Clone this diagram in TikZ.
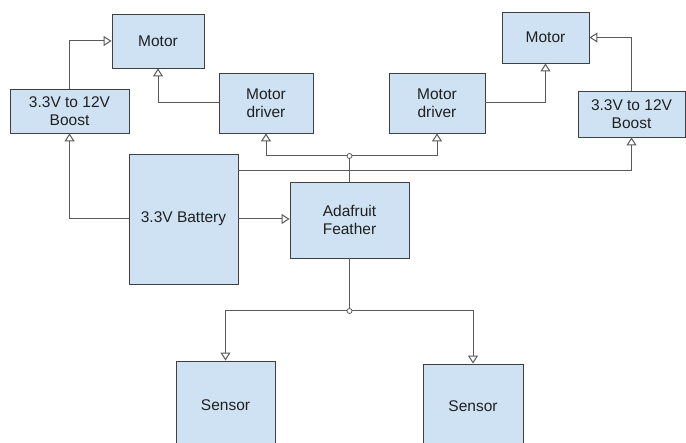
\documentclass[tikz,border=0pt]{standalone}
\usepackage{fontspec}
\setmainfont{Liberation Sans}
\usepackage{tikz}
\usetikzlibrary{arrows.meta,positioning}
\definecolor{boxfill}{RGB}{207,226,243}
\definecolor{boxline}{RGB}{64,64,64}
\definecolor{wire}{RGB}{90,90,90}
\definecolor{ink}{RGB}{32,32,32}

\begin{document}
\begin{tikzpicture}[x=1pt, y=-1pt,
    block/.style={draw=boxline, fill=boxfill, line width=0.9pt, inner sep=0pt, align=center,
      text=ink, font=\fontsize{15.5}{18}\selectfont},
    link/.style={draw=wire, line width=1pt, -{Triangle[fill=white, length=8pt, width=10pt]}},
    wire/.style={draw=wire, line width=1pt},
    junction/.style={circle, draw=wire, fill=white, line width=0.8pt, inner sep=0pt, minimum size=5pt}]
  \useasboundingbox (0,0) rectangle (686,443);
  \fill[white] (0,0) rectangle (686,443);
  \clip (0,0) rectangle (686,443);

  \node[block, minimum width=92pt, minimum height=54pt] (motorL) at (158,41) {Motor};
  \node[block, minimum width=119pt, minimum height=44pt] (boostL) at (69.5,111) {3.3V to 12V\\Boost};
  \node[block, minimum width=94pt, minimum height=60pt] (driverL) at (266,103) {Motor\\driver};
  \node[block, minimum width=109pt, minimum height=130pt] (battery) at (183.5,219) {3.3V Battery};
  \node[block, minimum width=119pt, minimum height=76pt] (feather) at (349.5,220) {Adafruit\\Feather};
  \node[block, minimum width=96pt, minimum height=60pt] (driverR) at (437,103) {Motor\\driver};
  \node[block, minimum width=87pt, minimum height=51pt] (motorR) at (545.5,37.5) {Motor};
  \node[block, minimum width=107pt, minimum height=46pt] (boostR) at (631.5,114) {3.3V to 12V\\Boost};
  \node[block, minimum width=99pt, minimum height=88pt] (sensorL) at (225.5,405) {Sensor};
  \node[block, minimum width=100pt, minimum height=84pt] (sensorR) at (473,406) {Sensor};

  \node[junction] (jtop) at (349.5,156) {};
  \node[junction] (jbot) at (349.5,311) {};

  \draw[link] (boostL.north) |- (motorL.west);
  \draw[link] (driverL.west) -| (motorL.south);
  \draw[link] (battery.west) -| (boostL.south);
  \draw[link] (battery.east) -- (battery.east -| feather.west);
  \draw[link] ([yshift=48pt]battery.east) -| (boostR.south);
  \draw[link] (boostR.north) |- (motorR.east);
  \draw[link] (driverR.east) -| (motorR.south);

  \draw[wire] (feather.north) -- (jtop.south);
  \draw[link] (jtop.west) -| (driverL.south);
  \draw[link] (jtop.east) -| (driverR.south);

  \draw[wire] (feather.south) -- (jbot.north);
  \draw[link] (jbot.west) -| (sensorL.north);
  \draw[link] (jbot.east) -| (sensorR.north);
\end{tikzpicture}
\end{document}
